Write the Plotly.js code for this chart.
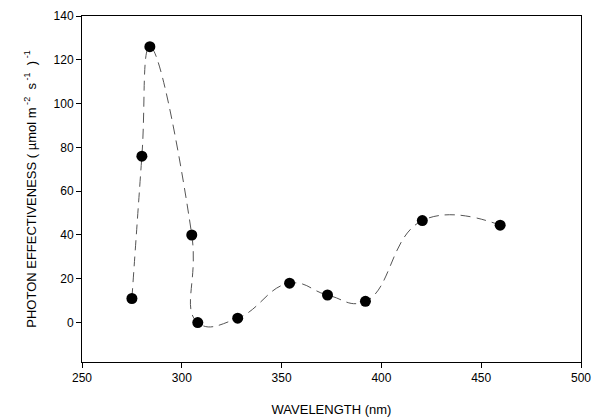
<!DOCTYPE html>
<html>
<head>
<meta charset="utf-8">
<script src="https://cdn.plot.ly/plotly-3.0.1.min.js"></script>
<style>html,body{margin:0;padding:0;background:#fff;}#chart{width:605px;height:419px;}</style>
</head>
<body>
<div id="chart"></div>
<script>
const wavelength = [275, 280, 284, 305, 308, 328, 354, 373, 392, 420.5, 459.5];
const effectiveness = [11, 76, 126, 40, 0, 2, 18, 12.6, 9.7, 46.6, 44.5];
const xTicks = [250, 300, 350, 400, 450, 500];
const yTicks = [0, 20, 40, 60, 80, 100, 120, 140];

const tickFont = {family: 'Liberation Sans, Arial, sans-serif', size: 12, color: '#000'};
const titleFont = {family: 'Liberation Sans, Arial, sans-serif', size: 13, color: '#000'};
const nb = '\u00a0';

const traces = [
  {
    x: wavelength, y: effectiveness, type: 'scatter', mode: 'lines',
    line: {shape: 'spline', smoothing: 1.3, color: '#555', width: 1, dash: '10px,6px'},
    hoverinfo: 'skip', showlegend: false
  },
  {
    x: wavelength, y: effectiveness, type: 'scatter', mode: 'markers',
    marker: {size: 11, color: '#000'}, showlegend: false
  }
];

const layout = {
  width: 605, height: 419,
  margin: {l: 82, r: 24, t: 16, b: 57},
  paper_bgcolor: '#fff', plot_bgcolor: '#fff',
  font: tickFont,
  showlegend: false,
  xaxis: {
    range: [250, 500], tickvals: xTicks, ticktext: xTicks.map(String),
    showgrid: false, zeroline: false, showline: true, mirror: true,
    linecolor: '#000', linewidth: 1, ticks: 'outside', ticklen: 5, tickcolor: '#000',
    tickfont: tickFont,
    title: {text: 'WAVELENGTH (nm)', font: titleFont, standoff: 20}
  },
  yaxis: {
    range: [-18, 140], tickvals: yTicks, ticktext: yTicks.map(String),
    showgrid: false, zeroline: false, showline: true, mirror: true,
    linecolor: '#000', linewidth: 1, ticks: 'outside', ticklen: 5, tickcolor: '#000',
    tickfont: tickFont,
    title: {text: 'PHOTON EFFECTIVENESS ( µmol m<sup>' + nb + '-2</sup>' + nb + nb + 's<sup>' + nb + '-1</sup>' + nb + nb + ')<sup>' + nb + '-1</sup>', font: titleFont, standoff: 14}
  }
};

Plotly.newPlot('chart', traces, layout, {displayModeBar: false, staticPlot: true});
</script>
</body>
</html>
